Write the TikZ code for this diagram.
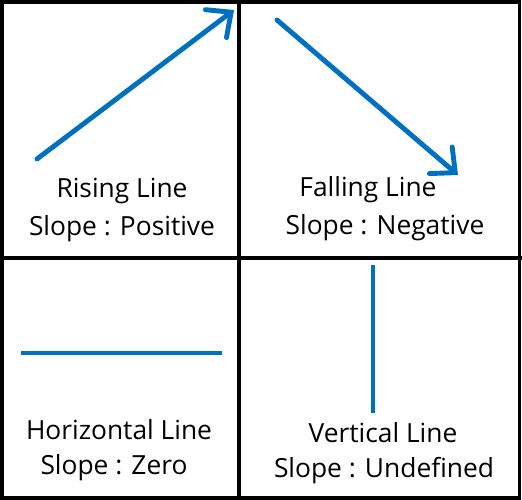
\documentclass[tikz,border=0pt]{standalone}
\usepackage{fontspec}
\setmainfont{Open Sans}
\usetikzlibrary{arrows.meta}
\definecolor{lineblue}{RGB}{0,112,192}

\begin{document}
\begin{tikzpicture}[x=0.02cm,y=-0.02cm]
\tikzstyle{every node}+=[inner sep=0pt, font=\fontsize{15}{18}\selectfont]
\tikzstyle{frame}=[black, line width=2pt]
\tikzstyle{slopeline}=[lineblue, line width=2.8pt]
\tikzstyle{slopearrow}=[slopeline, line cap=round, -{Straight Barb[length=0.38cm,width=0.7cm,line cap=round]}]
\useasboundingbox (0,0) rectangle (522,500);
% frame and dividers
\draw [frame] (1.8,1.8) rectangle (519.5,498.2);
\draw [frame] (239,0) -- (239,500);
\draw [frame] (0,258) -- (522,258);
% rising line
\coordinate (riseA) at (37,159);
\coordinate (riseB) at (234,10);
\draw [slopearrow] (riseA) -- (riseB);
\node (riseT) at (122,191) {Rising Line};
\node (riseS) at (122,229) {Slope : Positive};
% falling line
\coordinate (fallA) at (277,20);
\coordinate (fallB) at (458,175);
\draw [slopearrow] (fallA) -- (fallB);
\node (fallT) at (368,190) {Falling Line};
\node (fallS) at (385,228) {Slope : Negative};
% horizontal line
\coordinate (horA) at (21,353);
\coordinate (horB) at (222,353);
\draw [slopeline] (horA) -- (horB);
\node (horT) at (119,430) {Horizontal Line};
\node (horS) at (114,468) {Slope : Zero};
% vertical line
\coordinate (verA) at (373,265);
\coordinate (verB) at (373,413);
\draw [slopeline] (verA) -- (verB);
\node (verT) at (383,433) {Vertical Line};
\node (verS) at (384,471) {Slope : Undefined};
\end{tikzpicture}
\end{document}
